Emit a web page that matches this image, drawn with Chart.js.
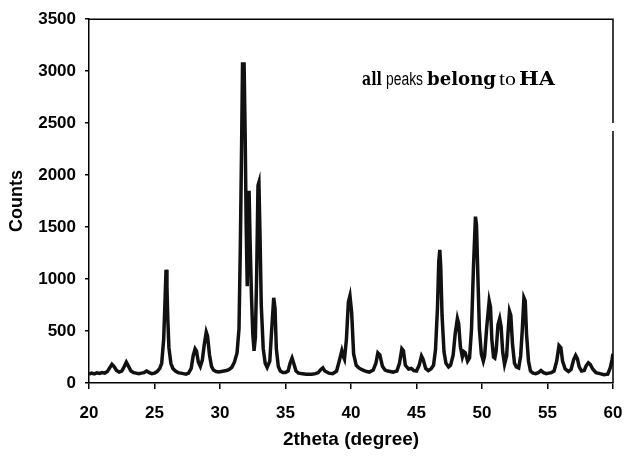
<!DOCTYPE html>
<html>
<head>
<meta charset="utf-8">
<script src="https://cdn.jsdelivr.net/npm/chart.js@4/dist/chart.umd.min.js"></script>
<style>
  html, body { margin: 0; padding: 0; background: #fff; }
  #wrap { width: 627px; height: 458px; position: relative; }
</style>
</head>
<body>
<div id="wrap"><canvas id="xrdChart"></canvas></div>
<script>
// 2theta positions (degree)
var twoTheta = [
  20.0, 20.2, 20.4, 20.6, 20.8, 21.0, 21.2, 21.4, 21.6, 21.75, 21.9, 22.1, 22.3, 22.5, 22.7, 22.85,
  23.0, 23.2, 23.4, 23.6, 23.8, 24.0, 24.2, 24.4, 24.6, 24.8, 25.0, 25.2, 25.4, 25.55, 25.7, 25.8,
  25.88, 25.95, 26.02, 26.1, 26.25, 26.4, 26.6, 26.8, 27.0, 27.2, 27.4, 27.6, 27.8, 27.95, 28.1, 28.2,
  28.35, 28.5, 28.65, 28.8, 28.95, 29.05, 29.2, 29.35, 29.5, 29.7, 29.9, 30.1, 30.3, 30.5, 30.7, 30.9,
  31.1, 31.3, 31.45, 31.55, 31.65, 31.72, 31.84, 31.92, 32.0, 32.08, 32.15, 32.22, 32.3, 32.4, 32.5, 32.6,
  32.7, 32.8, 32.9, 32.97, 33.05, 33.15, 33.3, 33.45, 33.6, 33.8, 33.95, 34.1, 34.2, 34.3, 34.45, 34.6,
  34.8, 35.0, 35.2, 35.35, 35.5, 35.65, 35.8, 36.0, 36.3, 36.6, 37.0, 37.3, 37.5, 37.7, 37.85, 38.0,
  38.3, 38.6, 38.9, 39.1, 39.3, 39.4, 39.5, 39.65, 39.8, 39.92, 40.05, 40.2, 40.4, 40.6, 40.8, 41.0,
  41.2, 41.4, 41.7, 41.9, 42.05, 42.2, 42.4, 42.6, 42.8, 43.0, 43.2, 43.5, 43.7, 43.88, 44.0, 44.15,
  44.4, 44.6, 44.8, 45.0, 45.2, 45.38, 45.5, 45.7, 45.9, 46.1, 46.3, 46.45, 46.6, 46.7, 46.78, 46.85,
  46.95, 47.1, 47.25, 47.45, 47.6, 47.8, 47.95, 48.12, 48.22, 48.35, 48.5, 48.62, 48.72, 48.9, 49.05, 49.2,
  49.35, 49.5, 49.58, 49.68, 49.8, 49.95, 50.1, 50.2, 50.35, 50.55, 50.65, 50.75, 50.88, 50.98, 51.08, 51.22,
  51.35, 51.46, 51.58, 51.72, 51.88, 51.98, 52.1, 52.2, 52.33, 52.48, 52.62, 52.8, 52.95, 53.08, 53.2, 53.3,
  53.4, 53.55, 53.7, 53.9, 54.1, 54.3, 54.5, 54.7, 54.9, 55.1, 55.3, 55.5, 55.7, 55.88, 56.02, 56.15,
  56.35, 56.6, 56.8, 57.0, 57.15, 57.28, 57.42, 57.6, 57.8, 57.95, 58.12, 58.26, 58.45, 58.7, 59.0, 59.3,
  59.6, 59.8, 59.92, 60.0
];

// Counts at each position
var counts = [
  85, 95, 88, 98, 92, 100, 95, 110, 150, 180, 160, 120, 105, 115, 160, 200,
  165, 115, 100, 95, 90, 95, 100, 115, 100, 90, 95, 110, 140, 190, 420, 780,
  1090, 920, 600, 340, 190, 140, 115, 100, 95, 90, 85, 95, 140, 260, 330, 310,
  200, 160, 220, 370, 490, 450, 270, 160, 125, 110, 105, 110, 115, 120, 130, 150,
  200, 290, 520, 1300, 2300, 3070, 3070, 2400, 1500, 930, 1500, 1850, 1350, 850, 480, 310,
  440, 1050, 1900, 1930, 1450, 750, 330, 190, 150, 210, 520, 820, 720, 330, 160, 115,
  100, 100, 115, 190, 240, 180, 115, 95, 90, 85, 85, 90, 100, 130, 145, 115,
  95, 90, 115, 210, 310, 260, 230, 420, 780, 840, 680, 280, 170, 145, 130, 120,
  110, 105, 125, 190, 290, 270, 160, 125, 115, 110, 105, 115, 190, 330, 310, 170,
  135, 140, 120, 115, 170, 260, 230, 140, 120, 135, 170, 320, 720, 1170, 1280, 1120,
  650, 300, 190, 155, 170, 270, 470, 620, 570, 350, 250, 300, 290, 210, 240, 520,
  1120, 1600, 1520, 1050, 520, 280, 210, 260, 520, 790, 730, 420, 250, 240, 310, 560,
  620, 540, 300, 180, 260, 470, 690, 650, 370, 190, 155, 145, 260, 520, 820, 790,
  470, 210, 115, 95, 90, 100, 120, 100, 90, 95, 100, 115, 210, 360, 340, 210,
  135, 110, 130, 225, 265, 235, 155, 115, 120, 165, 195, 180, 135, 100, 90, 80,
  85, 150, 220, 280
];

var xTickValues = [20, 25, 30, 35, 40, 45, 50, 55, 60];
var yTickValues = [0, 500, 1000, 1500, 2000, 2500, 3000, 3500];

// note text, split into words because each word uses a different face
var noteWords = ["all", "peaks", "belong", "to", "HA"];

var points = [];
for (var i = 0; i < twoTheta.length; i++) {
  points.push({ x: twoTheta[i], y: counts[i] });
}

// frame on top/right and the annotation text
var framePlugin = {
  id: 'framePlugin',
  afterDraw: function(chart) {
    var ctx = chart.ctx;
    var a = chart.chartArea;
    ctx.save();
    ctx.strokeStyle = '#000';
    ctx.lineWidth = 1.5;
    ctx.beginPath();
    ctx.moveTo(a.left, a.top);
    ctx.lineTo(a.right, a.top);
    ctx.lineTo(a.right, 123);
    ctx.moveTo(a.right, 131);
    ctx.lineTo(a.right, a.bottom);
    ctx.stroke();

    // word layout: start x, target width, font
    var styles = [
      { x: 362, w: 20, font: 'bold 19px "DejaVu Serif"' },
      { x: 386, w: 37, font: '18px "Liberation Sans"' },
      { x: 427, w: 69, font: 'bold 19px "DejaVu Serif"' },
      { x: 499, w: 17, font: '19px "Liberation Serif"' },
      { x: 519, w: 36, font: 'bold 19px "DejaVu Serif"' }
    ];
    ctx.fillStyle = '#000';
    ctx.textBaseline = 'alphabetic';
    for (var k = 0; k < noteWords.length; k++) {
      var s = styles[k];
      ctx.font = s.font;
      var mw = ctx.measureText(noteWords[k]).width;
      ctx.save();
      ctx.translate(s.x, 85);
      ctx.scale(s.w / mw, 1);
      ctx.fillText(noteWords[k], 0, 0);
      ctx.restore();
    }
    ctx.restore();
  }
};

var ctx = document.getElementById("xrdChart");
var myXrdChart = new Chart(ctx, {
  type: 'line',
  data: {
    datasets: [{
      label: 'HA',
      data: points,
      borderColor: '#111',
      borderWidth: 3.5,
      pointRadius: 0,
      tension: 0,
      fill: false
    }]
  },
  options: {
    responsive: true,
    maintainAspectRatio: false,
    animation: false,
    layout: { padding: { top: 17, right: 14, left: 0, bottom: 0 } },
    plugins: {
      legend: { display: false },
      tooltip: { enabled: false }
    },
    scales: {
      x: {
        type: 'linear',
        min: 20,
        max: 60,
        afterBuildTicks: function(axis) {
          axis.ticks = xTickValues.map(function(v) { return { value: v }; });
        },
        afterFit: function(axis) {
          axis.height = 75;
          axis.paddingLeft = 0;
          axis.paddingRight = 0;
        },
        grid: { display: true, drawOnChartArea: false, drawTicks: true, tickLength: 6, color: '#000', lineWidth: 1.5 },
        border: { display: true, color: '#000', width: 1.5 },
        ticks: {
          color: '#000',
          font: { family: '"Liberation Sans", Arial', size: 17, weight: 'bold' },
          padding: 14,
          maxRotation: 0,
          callback: function(v) { return String(v); }
        },
        title: {
          display: true,
          text: '2theta (degree)',
          color: '#000',
          font: { family: '"Liberation Sans", Arial', size: 19, weight: 'bold' },
          padding: { top: 0, bottom: 7 }
        }
      },
      y: {
        min: 0,
        max: 3500,
        afterBuildTicks: function(axis) {
          axis.ticks = yTickValues.map(function(v) { return { value: v }; });
        },
        afterFit: function(axis) { axis.width = 89; },
        grid: { display: true, drawOnChartArea: false, drawTicks: true, tickLength: 4, color: '#000', lineWidth: 1.5 },
        border: { display: true, color: '#000', width: 1.5 },
        ticks: {
          color: '#000',
          font: { family: '"Liberation Sans", Arial', size: 17, weight: 'bold' },
          padding: 9,
          callback: function(v) { return String(v); }
        },
        title: {
          display: true,
          text: 'Counts',
          color: '#000',
          font: { family: '"Liberation Sans", Arial', size: 18, weight: 'bold' },
          padding: { top: 6, bottom: 0 }
        }
      }
    }
  },
  plugins: [framePlugin]
});
</script>
</body>
</html>
